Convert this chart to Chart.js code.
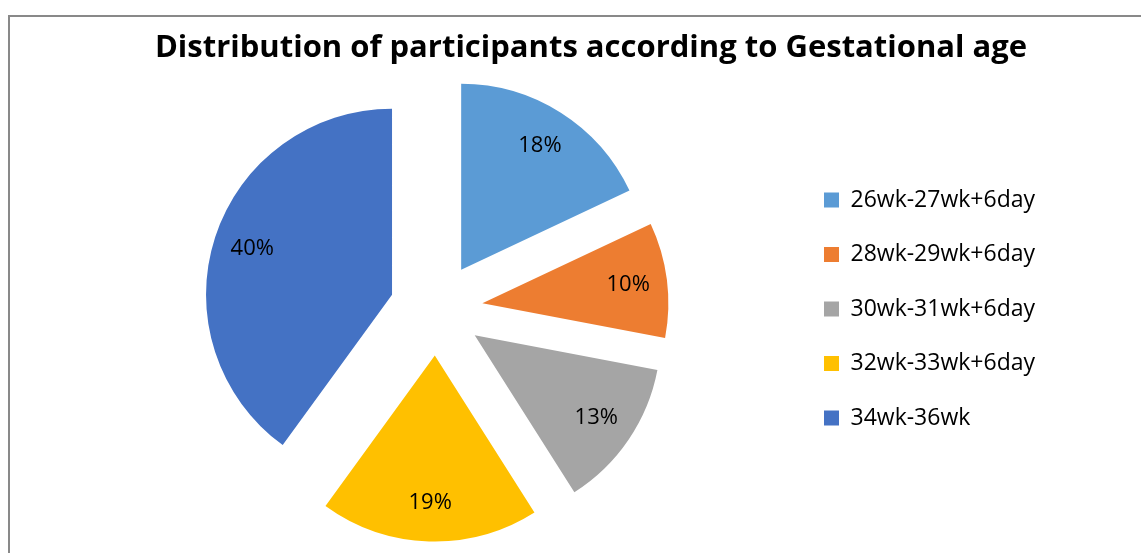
<!DOCTYPE html>
<html>
<head>
<meta charset="utf-8">
<script src="https://cdn.jsdelivr.net/npm/chart.js@4.4.1/dist/chart.umd.min.js"></script>
<style>
  html, body { margin: 0; padding: 0; background: #fff; overflow: hidden; }
  #frame { position: absolute; left: 8px; top: 15px; width: 1162px; height: 560px; border: 2px solid #898989; background: #fff; }
  #frame canvas { display: block; }
</style>
</head>
<body>
<div id="frame"><canvas id="chart" width="1162" height="545"></canvas></div>
<script>
const titleText = 'Distribution of participants according to Gestational age';
const ageGroups = ['26wk-27wk+6day', '28wk-29wk+6day', '30wk-31wk+6day', '32wk-33wk+6day', '34wk-36wk'];
const percentages = [18, 10, 13, 19, 40];
const sliceColors = ['#5B9BD5', '#ED7D31', '#A5A5A5', '#FFC000', '#4472C4'];

const FONT = '"Open Sans", sans-serif';
const EXPLODE = 0.25;      // how far each slice is pulled out, as a fraction of the radius
const LABEL_POS = 0.79;    // value label distance from the slice tip, fraction of radius

// title centred over the whole canvas (the legend would push the built-in one off centre)
const chartTitle = {
  id: 'chartTitle',
  afterDraw(chart) {
    const ctx = chart.ctx;
    ctx.save();
    ctx.font = 'bold 31px ' + FONT;
    ctx.fillStyle = '#000';
    ctx.textAlign = 'center';
    ctx.textBaseline = 'alphabetic';
    ctx.fillText(titleText, chart.width / 2, 40);
    ctx.restore();
  }
};

// pull every slice out along its own bisector
const explodePlugin = {
  id: 'explode',
  afterDatasetsUpdate(chart) {
    chart.getDatasetMeta(0).data.forEach(arc => {
      const mid = (arc.startAngle + arc.endAngle) / 2;
      const d = arc.outerRadius * EXPLODE;
      arc.x += Math.cos(mid) * d;
      arc.y += Math.sin(mid) * d;
    });
  }
};

// percentage text inside each slice
const valueLabels = {
  id: 'valueLabels',
  afterDatasetsDraw(chart) {
    const ctx = chart.ctx;
    ctx.save();
    ctx.font = '22px ' + FONT;
    ctx.fillStyle = '#000';
    ctx.textAlign = 'center';
    ctx.textBaseline = 'middle';
    chart.getDatasetMeta(0).data.forEach((arc, i) => {
      const mid = (arc.startAngle + arc.endAngle) / 2;
      const r = arc.outerRadius * LABEL_POS;
      ctx.fillText(percentages[i] + '%', arc.x + Math.cos(mid) * r, arc.y + Math.sin(mid) * r);
    });
    ctx.restore();
  }
};

new Chart(document.getElementById('chart'), {
  type: 'pie',
  data: {
    labels: ageGroups,
    datasets: [{
      data: percentages,
      backgroundColor: sliceColors,
      borderWidth: 0,
      radius: 186
    }]
  },
  options: {
    responsive: false,
    animation: false,
    layout: { padding: { left: 70, right: 127, top: 49, bottom: 10 } },
    plugins: {
      title: { display: false },
      legend: {
        position: 'right',
        labels: {
          boxWidth: 15,
          boxHeight: 15,
          padding: 31.5,
          color: '#000',
          font: { family: FONT, size: 23 }
        }
      },
      tooltip: { enabled: false }
    }
  },
  plugins: [explodePlugin, valueLabels, chartTitle]
});
</script>
</body>
</html>
